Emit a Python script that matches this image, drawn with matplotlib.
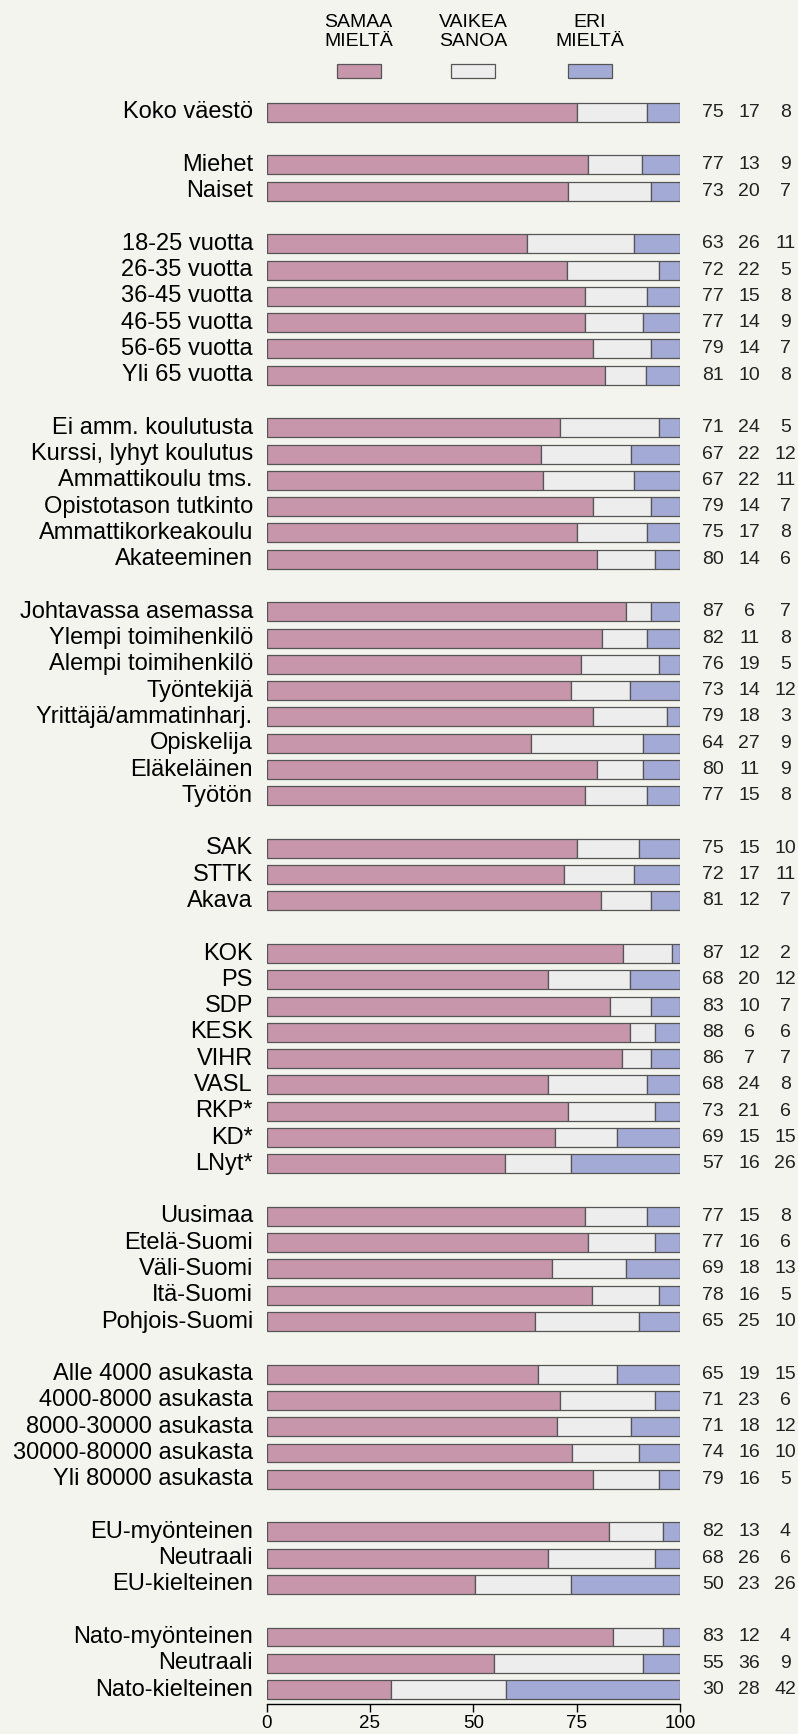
import matplotlib
matplotlib.use('Agg')
import matplotlib.pyplot as plt
import matplotlib.transforms as mtransforms
import numpy as np

# Data
labels = [
    "Koko väestö",
    "Miehet", "Naiset",
    "18-25 vuotta", "26-35 vuotta", "36-45 vuotta", "46-55 vuotta", "56-65 vuotta", "Yli 65 vuotta",
    "Ei amm. koulutusta", "Kurssi, lyhyt koulutus", "Ammattikoulu tms.", "Opistotason tutkinto",
    "Ammattikorkeakoulu", "Akateeminen",
    "Johtavassa asemassa", "Ylempi toimihenkilö", "Alempi toimihenkilö", "Työntekijä",
    "Yrittäjä/ammatinharj.", "Opiskelija", "Eläkeläinen", "Työtön",
    "SAK", "STTK", "Akava",
    "KOK", "PS", "SDP", "KESK", "VIHR", "VASL", "RKP*", "KD*", "LNyt*",
    "Uusimaa", "Etelä-Suomi", "Väli-Suomi", "Itä-Suomi", "Pohjois-Suomi",
    "Alle 4000 asukasta", "4000-8000 asukasta", "8000-30000 asukasta", "30000-80000 asukasta", "Yli 80000 asukasta",
    "EU-myönteinen", "Neutraali", "EU-kielteinen",
    "Nato-myönteinen", "Neutraali", "Nato-kielteinen",
]
group_sizes = [1, 2, 6, 6, 8, 3, 9, 5, 5, 3, 3]

samaa = [75,
         77, 73,
         63, 72, 77, 77, 79, 81,
         71, 67, 67, 79, 75, 80,
         87, 82, 76, 73, 79, 64, 80, 77,
         75, 72, 81,
         87, 68, 83, 88, 86, 68, 73, 69, 57,
         77, 77, 69, 78, 65,
         65, 71, 71, 74, 79,
         82, 68, 50,
         83, 55, 30]
vaikea = [17,
          13, 20,
          26, 22, 15, 14, 14, 10,
          24, 22, 22, 14, 17, 14,
          6, 11, 19, 14, 18, 27, 11, 15,
          15, 17, 12,
          12, 20, 10, 6, 7, 24, 21, 15, 16,
          15, 16, 18, 16, 25,
          19, 23, 18, 16, 16,
          13, 26, 23,
          12, 36, 28]
eri = [8,
       9, 7,
       11, 5, 8, 9, 7, 8,
       5, 12, 11, 7, 8, 6,
       7, 8, 5, 12, 3, 9, 9, 8,
       10, 11, 7,
       2, 12, 7, 6, 7, 8, 6, 15, 26,
       8, 6, 13, 5, 10,
       15, 6, 12, 10, 5,
       4, 6, 26,
       4, 9, 42]

series_names = ["SAMAA\nMIELTÄ", "VAIKEA\nSANOA", "ERI\nMIELTÄ"]
colors = ["#c896ab", "#ededed", "#a3aad5"]
bg = "#f3f4ee"
edge = "#555555"

# row positions with a blank slot between groups
ypos = []
slot = 0
for g in group_sizes:
    for i in range(g):
        ypos.append(slot)
        slot += 1
    slot += 1
ypos = np.array(ypos)

vals = np.array([samaa, vaikea, eri], dtype=float)
shares = vals / vals.sum(axis=0) * 100

plt.rcParams['font.family'] = ['Liberation Sans', 'DejaVu Sans']

fig = plt.figure(figsize=(7.98, 17.34), dpi=100, facecolor=bg)
ax = fig.add_axes([0.334, 0.0173, 0.518, 0.927])
ax.set_facecolor(bg)

left = np.zeros(len(labels))
for k in range(3):
    ax.barh(ypos, shares[k], left=left, height=0.72, color=colors[k],
            edgecolor=edge, linewidth=0.9)
    left += shares[k]

ax.set_xlim(0, 100)
ax.set_ylim(ypos[-1] + 0.55, -0.6)
ax.set_yticks([])
ax.set_xticks([0, 25, 50, 75, 100])
ax.tick_params(axis='x', length=6, width=1, labelsize=13.5, pad=2)
for s in ['left', 'right', 'top']:
    ax.spines[s].set_visible(False)
ax.spines['bottom'].set_linewidth(1)

# row labels and numbers
for y, lab, a, b, c in zip(ypos, labels, samaa, vaikea, eri):
    ax.text(-3.3, y, lab, ha='right', va='center', fontsize=17, clip_on=False)
    for xx, v in zip([108, 116.8, 125.5], [a, b, c]):
        ax.text(xx, y, str(v), ha='center', va='center', fontsize=14, color='#222222', clip_on=False)

# legend on top
trans = mtransforms.blended_transform_factory(ax.transData, fig.transFigure)
for xc, name, col in zip([22.3, 50, 78.2], series_names, colors):
    ax.text(xc, 1 - 32 / 1734, name, transform=trans, ha='center', va='center', fontsize=14,
            family=['Liberation Sans Narrow', 'Liberation Sans'], linespacing=1.2)
    ax.add_patch(plt.Rectangle((xc - 5.3, 1 - 78 / 1734), 10.6, 14 / 1734, transform=trans,
                               facecolor=col, edgecolor=edge, linewidth=0.9, clip_on=False))

plt.savefig("out.png", dpi=100, facecolor=bg)
